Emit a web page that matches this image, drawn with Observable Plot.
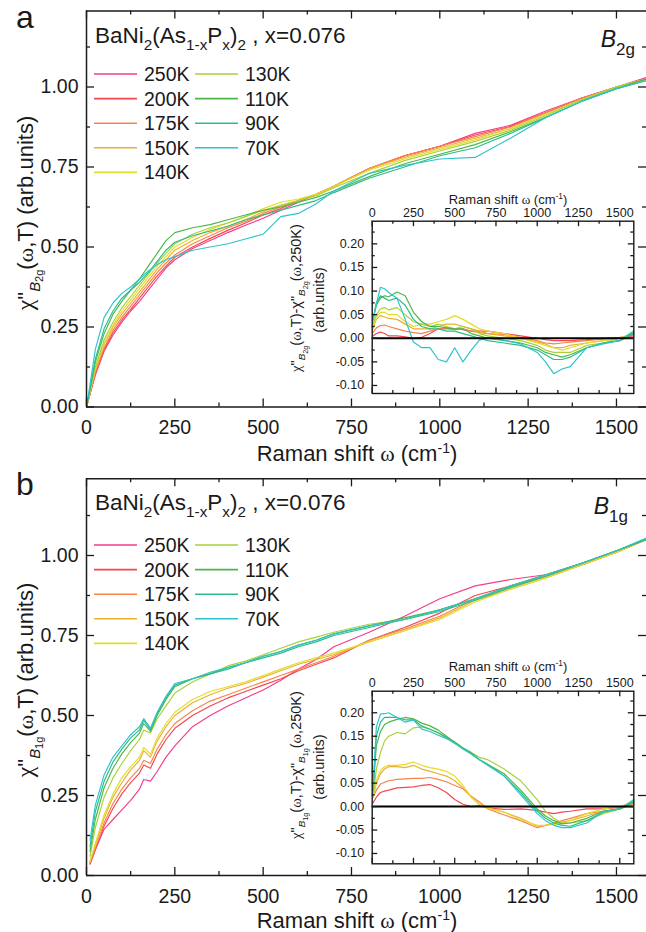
<!DOCTYPE html>
<html><head><meta charset="utf-8">
<script src="https://cdn.jsdelivr.net/npm/d3@7"></script>
<script src="https://cdn.jsdelivr.net/npm/@observablehq/plot@0.6"></script>
<style>
body{margin:0;background:#fff}
#fig{position:relative;width:646px;height:932px;overflow:hidden;background:#fff}
#fig svg{position:absolute}
</style>
</head><body><div id="fig"></div>
<script>
// ---------------- data ----------------
const temps = ["250K","200K","175K","150K","140K","130K","110K","90K","70K"];
const palette = ["#f23d8c","#f4474f","#f7844a","#ecb030","#e4dc2c","#a9d13a","#4cb748","#2dbb8a","#2ec3cc"];

const xMajor = [0,250,500,750,1000,1250,1500];
const xMinor = [125,375,625,875,1125,1375];
const yMainMajor = [0,0.25,0.5,0.75,1.0];
const yMainMinor = [0.125,0.375,0.625,0.875,1.125];
const yInMajor = [-0.1,-0.05,0,0.05,0.1,0.15,0.2];
const yInMinor = [-0.075,-0.025,0.025,0.075,0.125,0.175,0.225];

// panel a main (B2g)
const omegaA = [0,10,25,50,75,100,125,150,175,200,225,250,300,350,400,450,500,550,600,650,700,800,900,1000,1100,1200,1300,1400,1500,1585];
const B2g_250K = [0,0.04,0.10,0.175,0.225,0.265,0.30,0.33,0.365,0.40,0.435,0.46,0.495,0.52,0.545,0.568,0.59,0.615,0.64,0.665,0.69,0.745,0.785,0.815,0.855,0.88,0.925,0.965,1.0,1.03];
const B2g_200K = [0,0.042,0.104,0.18,0.232,0.272,0.305,0.34,0.375,0.41,0.44,0.468,0.50,0.527,0.552,0.575,0.60,0.62,0.645,0.665,0.69,0.745,0.785,0.815,0.85,0.877,0.92,0.965,1.0,1.025];
const B2g_175K = [0,0.044,0.108,0.185,0.24,0.28,0.315,0.35,0.385,0.42,0.45,0.475,0.51,0.535,0.56,0.58,0.605,0.625,0.645,0.665,0.69,0.745,0.785,0.815,0.845,0.875,0.92,0.965,1.0,1.025];
const B2g_150K = [0,0.046,0.115,0.195,0.25,0.29,0.325,0.36,0.395,0.43,0.46,0.49,0.52,0.545,0.565,0.585,0.61,0.63,0.645,0.665,0.69,0.745,0.78,0.81,0.84,0.87,0.915,0.96,1.0,1.025];
const B2g_140K = [0,0.048,0.12,0.2,0.255,0.30,0.335,0.37,0.405,0.44,0.47,0.50,0.53,0.555,0.575,0.595,0.62,0.64,0.65,0.665,0.69,0.74,0.775,0.805,0.835,0.87,0.915,0.96,1.0,1.025];
const B2g_130K = [0,0.05,0.125,0.21,0.265,0.31,0.345,0.38,0.415,0.45,0.48,0.51,0.54,0.56,0.575,0.595,0.615,0.63,0.645,0.66,0.685,0.73,0.77,0.80,0.83,0.865,0.91,0.96,1.0,1.025];
const B2g_110K = [0,0.055,0.14,0.23,0.29,0.33,0.365,0.40,0.44,0.48,0.52,0.545,0.56,0.57,0.585,0.60,0.615,0.625,0.64,0.655,0.675,0.72,0.76,0.79,0.82,0.86,0.905,0.955,0.995,1.025];
const B2g_90K  = [0,0.06,0.15,0.245,0.30,0.34,0.365,0.39,0.42,0.455,0.49,0.515,0.535,0.55,0.565,0.585,0.60,0.615,0.63,0.645,0.67,0.715,0.75,0.785,0.81,0.855,0.905,0.955,0.995,1.02];
const B2g_70K  = [0,0.07,0.18,0.28,0.325,0.355,0.375,0.40,0.425,0.445,0.46,0.47,0.49,0.50,0.51,0.525,0.54,0.595,0.605,0.635,0.675,0.73,0.755,0.775,0.78,0.84,0.905,0.955,0.995,1.02];

// panel b main (B1g)
const omegaB = [10,25,50,75,100,125,150,162,181,200,225,250,300,350,400,450,500,550,600,650,700,800,900,1000,1100,1200,1300,1400,1500,1585];
const B1g_250K = [0.035,0.08,0.145,0.175,0.205,0.235,0.27,0.30,0.295,0.325,0.37,0.405,0.465,0.50,0.53,0.555,0.58,0.61,0.645,0.675,0.715,0.76,0.81,0.865,0.905,0.925,0.94,0.975,1.01,1.05];
const B1g_200K = [0.038,0.08,0.155,0.21,0.255,0.29,0.32,0.345,0.335,0.38,0.425,0.46,0.50,0.53,0.555,0.575,0.595,0.615,0.64,0.66,0.68,0.735,0.775,0.82,0.875,0.905,0.935,0.97,1.01,1.05];
const B1g_175K = [0.04,0.085,0.165,0.225,0.27,0.305,0.335,0.36,0.35,0.395,0.44,0.475,0.515,0.545,0.565,0.585,0.605,0.625,0.645,0.665,0.685,0.735,0.77,0.81,0.865,0.9,0.935,0.97,1.01,1.05];
const B1g_150K = [0.043,0.095,0.18,0.245,0.29,0.33,0.36,0.39,0.37,0.42,0.465,0.50,0.54,0.565,0.585,0.60,0.62,0.64,0.66,0.675,0.69,0.73,0.765,0.805,0.86,0.895,0.93,0.97,1.01,1.05];
const B1g_140K = [0.045,0.10,0.19,0.255,0.305,0.34,0.37,0.40,0.38,0.43,0.475,0.51,0.55,0.575,0.59,0.605,0.625,0.645,0.665,0.68,0.695,0.73,0.765,0.80,0.855,0.895,0.93,0.97,1.01,1.05];
const B1g_130K = [0.06,0.15,0.245,0.305,0.35,0.39,0.425,0.455,0.445,0.49,0.53,0.57,0.605,0.63,0.655,0.67,0.69,0.71,0.73,0.745,0.76,0.785,0.80,0.83,0.865,0.90,0.935,0.975,1.015,1.05];
const B1g_110K = [0.075,0.175,0.275,0.335,0.38,0.415,0.445,0.475,0.45,0.50,0.55,0.59,0.615,0.63,0.65,0.665,0.685,0.70,0.72,0.735,0.755,0.78,0.805,0.83,0.865,0.905,0.94,0.975,1.015,1.05];
const B1g_90K  = [0.09,0.20,0.295,0.355,0.395,0.43,0.455,0.485,0.455,0.505,0.555,0.595,0.615,0.63,0.645,0.665,0.68,0.695,0.715,0.73,0.75,0.775,0.80,0.825,0.86,0.90,0.935,0.975,1.015,1.05];
const B1g_70K  = [0.11,0.22,0.315,0.37,0.405,0.44,0.465,0.49,0.46,0.51,0.56,0.60,0.615,0.635,0.65,0.665,0.685,0.70,0.72,0.735,0.755,0.78,0.80,0.83,0.865,0.905,0.94,0.975,1.015,1.055];

// insets: chi(T) - chi(250K)
const omegaIn = [5,25,50,75,100,150,200,250,300,350,400,450,500,550,600,650,700,800,900,1000,1050,1100,1150,1200,1300,1400,1500,1585];
const dB2g_200K = [0.005,0.01,0.013,0.01,0.005,0.005,0.003,0.0,0.002,0.01,0.02,0.022,0.02,0.018,0.015,0.015,0.015,0.01,0.005,0.0,-0.003,-0.005,-0.005,-0.005,-0.003,0.0,0.002,0.005];
const dB2g_175K = [0.012,0.022,0.027,0.028,0.025,0.02,0.015,0.012,0.01,0.015,0.02,0.02,0.018,0.02,0.015,0.012,0.01,0.008,0.002,-0.005,-0.01,-0.012,-0.01,-0.008,-0.005,-0.002,0.0,0.008];
const dB2g_150K = [0.02,0.04,0.048,0.045,0.042,0.04,0.03,0.02,0.02,0.02,0.025,0.03,0.03,0.025,0.02,0.015,0.01,0.005,0.0,-0.008,-0.012,-0.02,-0.02,-0.015,-0.01,-0.005,0.0,0.01];
const dB2g_140K = [0.025,0.045,0.055,0.055,0.05,0.05,0.035,0.025,0.03,0.03,0.035,0.04,0.048,0.04,0.03,0.02,0.015,0.01,0.0,-0.01,-0.015,-0.02,-0.025,-0.02,-0.01,-0.005,0.0,0.012];
const dB2g_130K = [0.03,0.05,0.062,0.065,0.06,0.065,0.05,0.035,0.03,0.025,0.03,0.025,0.02,0.025,0.02,0.01,0.005,0.0,-0.005,-0.015,-0.025,-0.03,-0.03,-0.03,-0.015,-0.01,0.0,0.01];
const dB2g_110K = [0.04,0.07,0.085,0.09,0.088,0.098,0.09,0.055,0.035,0.025,0.025,0.022,0.02,0.02,0.01,0.005,0.0,-0.005,-0.01,-0.02,-0.03,-0.035,-0.04,-0.035,-0.02,-0.01,-0.005,0.01];
const dB2g_90K  = [0.04,0.075,0.09,0.085,0.08,0.085,0.07,0.04,0.025,0.02,0.02,0.015,0.015,0.01,0.005,0.0,-0.005,-0.01,-0.015,-0.025,-0.035,-0.045,-0.045,-0.04,-0.02,-0.01,-0.005,0.012];
const dB2g_70K  = [0.037,0.073,0.108,0.105,0.097,0.085,0.04,-0.008,-0.02,-0.02,-0.045,-0.05,-0.02,-0.05,-0.025,-0.004,0.002,-0.004,-0.012,-0.03,-0.05,-0.075,-0.065,-0.06,-0.02,-0.012,-0.005,0.016];

const dB1g_200K = [0.008,0.02,0.03,0.033,0.035,0.04,0.041,0.042,0.045,0.047,0.04,0.03,0.015,0.005,0.0,0.002,-0.003,-0.006,-0.005,-0.008,-0.012,-0.015,-0.012,-0.01,-0.005,-0.005,-0.002,0.005];
const dB1g_175K = [0.02,0.035,0.048,0.052,0.055,0.058,0.059,0.06,0.06,0.062,0.058,0.053,0.045,0.038,0.022,0.01,-0.005,-0.018,-0.03,-0.045,-0.04,-0.035,-0.03,-0.025,-0.015,-0.01,-0.005,0.005];
const dB1g_150K = [0.02,0.05,0.07,0.08,0.085,0.085,0.083,0.088,0.08,0.075,0.07,0.065,0.055,0.04,0.02,0.005,-0.002,-0.012,-0.025,-0.042,-0.04,-0.035,-0.033,-0.03,-0.02,-0.01,-0.005,0.008];
const dB1g_140K = [0.02,0.055,0.077,0.085,0.088,0.088,0.09,0.095,0.088,0.083,0.08,0.075,0.065,0.045,0.02,0.004,-0.004,-0.012,-0.028,-0.04,-0.04,-0.038,-0.036,-0.03,-0.015,-0.005,0.0,0.01];
const dB1g_130K = [0.02,0.08,0.115,0.14,0.15,0.158,0.155,0.168,0.17,0.165,0.158,0.148,0.138,0.125,0.115,0.105,0.1,0.08,0.055,0.015,-0.01,-0.025,-0.035,-0.035,-0.03,-0.015,-0.005,0.01];
const dB1g_110K = [0.034,0.13,0.16,0.175,0.18,0.186,0.19,0.187,0.178,0.172,0.163,0.15,0.137,0.125,0.115,0.1,0.09,0.07,0.035,-0.005,-0.02,-0.03,-0.037,-0.035,-0.025,-0.01,-0.005,0.01];
const dB1g_90K  = [0.035,0.15,0.18,0.19,0.19,0.19,0.185,0.185,0.172,0.165,0.157,0.147,0.135,0.123,0.112,0.1,0.088,0.065,0.03,-0.01,-0.025,-0.035,-0.04,-0.042,-0.03,-0.012,-0.005,0.012];
const dB1g_70K  = [0.04,0.17,0.197,0.198,0.2,0.19,0.18,0.185,0.165,0.16,0.152,0.145,0.135,0.125,0.112,0.1,0.09,0.065,0.025,-0.015,-0.03,-0.04,-0.045,-0.045,-0.035,-0.01,-0.005,0.015];

// ---------------- build ----------------
const SANS = "Liberation Sans, Arial, Helvetica, sans-serif";
const SERIF = "Liberation Serif, Times New Roman, serif";
function tidy(omega, arrays, labels) {
  const out = [];
  arrays.forEach((a, i) => a.forEach((v, j) => out.push({w: omega[j], v, T: labels[i]})));
  return out;
}
const rowsA = tidy(omegaA, [B2g_250K,B2g_200K,B2g_175K,B2g_150K,B2g_140K,B2g_130K,B2g_110K,B2g_90K,B2g_70K], temps);
const rowsB = tidy(omegaB, [B1g_250K,B1g_200K,B1g_175K,B1g_150K,B1g_140K,B1g_130K,B1g_110K,B1g_90K,B1g_70K], temps);
const inTemps = temps.slice(1);
const rowsIA = tidy(omegaIn, [dB2g_200K,dB2g_175K,dB2g_150K,dB2g_140K,dB2g_130K,dB2g_110K,dB2g_90K,dB2g_70K], inTemps);
const rowsIB = tidy(omegaIn, [dB1g_200K,dB1g_175K,dB1g_150K,dB1g_140K,dB1g_130K,dB1g_110K,dB1g_90K,dB1g_70K], inTemps);

const fig = document.getElementById("fig");
const xDomain = [0, 1585];
const INK = "#1a1a1a";

function frameTicks(fw, fh, yMaj, yMin, L, l) {
  const o = {stroke: INK, strokeWidth: 1.3};
  return [
    Plot.tickX(xMajor, {x: d => d, insetTop: fh - L, ...o}),
    Plot.tickX(xMajor, {x: d => d, insetBottom: fh - L, ...o}),
    Plot.tickX(xMinor, {x: d => d, insetTop: fh - l, ...o}),
    Plot.tickX(xMinor, {x: d => d, insetBottom: fh - l, ...o}),
    Plot.tickY(yMaj, {y: d => d, insetRight: fw - L, ...o}),
    Plot.tickY(yMaj, {y: d => d, insetLeft: fw - L, ...o}),
    Plot.tickY(yMin, {y: d => d, insetRight: fw - l, ...o}),
    Plot.tickY(yMin, {y: d => d, insetLeft: fw - l, ...o})
  ];
}

function mainPlot(rows, top, mTop, mBottom, yTop) {
  const H = 466, W = 646, mL = 86, mR = 0;
  const fw = W - mL - mR, fh = H - mTop - mBottom;
  const yDomain = [0, yTop];
  const svg = Plot.plot({
    width: W, height: H, marginLeft: mL, marginRight: mR, marginTop: mTop, marginBottom: mBottom,
    x: {domain: xDomain}, y: {domain: yDomain},
    color: {domain: temps, range: palette},
    style: {fontFamily: SANS, fontSize: "19.5px", color: INK, background: "transparent", overflow: "visible"},
    marks: [
      Plot.line(rows, {x: "w", y: "v", z: "T", stroke: "T", strokeWidth: 1.15}),
      Plot.ruleX(xDomain.slice(0, 1), {stroke: INK, strokeWidth: 1.5}),
      Plot.ruleY(yDomain, {stroke: INK, strokeWidth: 1.5}),
      ...frameTicks(fw, fh, yMainMajor, yMainMinor, 8, 4),
      Plot.axisX({ticks: xMajor, tickSize: 0, tickPadding: 13.5, tickFormat: d => String(d), label: null, fontSize: 19.5}),
      Plot.axisY({ticks: yMainMajor, tickSize: 0, tickPadding: 8, tickFormat: d => d.toFixed(2), label: null, fontSize: 19.5})
    ]
  });
  svg.style.left = "0px"; svg.style.top = top + "px";
  fig.appendChild(svg);
}

function insetPlot(rows, top, H, yDomain) {
  const W = 376, mL = 101.7, mR = 12.7, mT = 35.7, mB = 7;
  const fw = W - mL - mR, fh = H - mT - mB;
  const svg = Plot.plot({
    width: W, height: H, marginLeft: mL, marginRight: mR, marginTop: mT, marginBottom: mB,
    x: {domain: xDomain}, y: {domain: yDomain},
    color: {domain: temps, range: palette},
    style: {fontFamily: SANS, fontSize: "12.5px", color: INK, background: "transparent", overflow: "visible"},
    marks: [
      Plot.line(rows, {x: "w", y: "v", z: "T", stroke: "T", strokeWidth: 1.2}),
      Plot.ruleY([0], {stroke: "#000", strokeWidth: 2}),
      Plot.frame({stroke: INK, strokeWidth: 1.4}),
      ...frameTicks(fw, fh, yInMajor, yInMinor, 5.5, 3),
      Plot.axisX({anchor: "top", ticks: xMajor, tickSize: 0, tickPadding: 4, tickFormat: d => String(d), label: null, fontSize: 12.5}),
      Plot.axisY({ticks: yInMajor, tickSize: 0, tickPadding: 8, tickFormat: d => d.toFixed(2), label: null, fontSize: 12.5})
    ]
  });
  svg.style.left = "270px"; svg.style.top = top + "px";
  fig.appendChild(svg);
}

mainPlot(rowsA, 0, 10.5, 59.5, 1.2375);
mainPlot(rowsB, 466, 12.3, 57, 1.2397);
insetPlot(rowsIA, 185, 215, [-0.117, 0.248]);
insetPlot(rowsIB, 655, 215.3, [-0.122, 0.246]);

// ---------------- text overlay ----------------
const ov = d3.select(fig).append("svg")
  .attr("width", 646).attr("height", 932)
  .style("left", "0px").style("top", "0px").style("pointer-events", "none");

function rich(x, y, parts, {size, anchor = "start", rotate = 0, family = SANS} = {}) {
  const t = ov.append("text").attr("x", x).attr("y", y)
    .attr("font-size", size).attr("font-family", family)
    .attr("text-anchor", anchor).attr("fill", INK);
  if (rotate) t.attr("transform", `rotate(${rotate} ${x} ${y})`);
  let cur = 0;
  for (const p of parts) {
    const sh = (p.shift || 0) * size;
    const s = t.append("tspan").attr("dy", sh - cur).text(p.t);
    cur = sh;
    if (p.scale) s.attr("font-size", size * p.scale);
    if (p.italic) s.attr("font-style", "italic");
    if (p.serif) s.attr("font-family", SERIF);
  }
  return t;
}
const T = (t, o = {}) => ({t, ...o});
const sub = (t, o = {}) => ({t, shift: 0.3, scale: 0.68, ...o});
const sup = (t) => ({t, shift: -0.36, scale: 0.64});

function titleParts() {
  return [T("BaNi"), sub("2"), T("(As"), sub("1-x"), T("P"), sub("x"), T(")"), sub("2"), T(" , x=0.076")];
}
function yMainParts(n) {
  return [T("χ", {serif: true, scale: 1.08}), T("\""), sub("B", {italic: true}), {t: n + "g", shift: 0.45, scale: 0.5},
          T("(", {shift: 0}), T("ω", {serif: true}), T(",T) (arb.units)")];
}
function yInsetParts(n) {
  return [T("χ", {serif: true}), T("\""), sub("B", {italic: true}), {t: n + "g", shift: 0.45, scale: 0.5},
          T("("), T("ω", {serif: true}), T(",T)-χ"), T("\""), sub("B", {italic: true}), {t: n + "g", shift: 0.45, scale: 0.5},
          T("("), T("ω", {serif: true}), T(",250K)")];
}
function xTitleParts() {
  return [T("Raman shift "), T("ω", {serif: true}), T(" (cm"), sup("-1"), T(")", {shift: 0})];
}

function panelText(dy, dyL, letter, n, symEnd) {
  rich(16, 28 + dy, [T(letter)], {size: 32});
  rich(95, 43.3 + dy, titleParts(), {size: 22.5});
  rich(symEnd, 46.7 + dy, [T("B", {italic: true}), {t: n + "g", shift: 0.36, scale: 0.74}], {size: 23, anchor: "end"});
  // legend
  const rowsY = [74, 98.6, 123.2, 147.8, 172.4];
  temps.forEach((tp, i) => {
    const col = i < 5 ? 0 : 1, r = i < 5 ? i : i - 5;
    const x0 = col === 0 ? 94 : 195, y = rowsY[r] + dyL;
    ov.append("line").attr("x1", x0).attr("x2", x0 + 43).attr("y1", y).attr("y2", y)
      .attr("stroke", palette[i]).attr("stroke-width", 1.6);
    rich(x0 + 50, y + 7, [T(tp)], {size: 19.5});
  });
  // axis titles
  rich(357, 461 + dy, xTitleParts(), {size: 22, anchor: "middle"});
  rich(33, 213 + dy, yMainParts(n), {size: 22, anchor: "middle", rotate: -90});
  // inset titles
  rich(508, 204 + dy, xTitleParts(), {size: 13, anchor: "middle"});
  rich(301, 298 + dy, yInsetParts(n), {size: 14.5, anchor: "middle", rotate: -90});
  rich(324, 300 + dy, [T("(arb.units)")], {size: 14.5, anchor: "middle", rotate: -90});
}
panelText(0, 0, "a", "2", 635);
panelText(467, 471, "b", "1", 628);
</script></body></html>
